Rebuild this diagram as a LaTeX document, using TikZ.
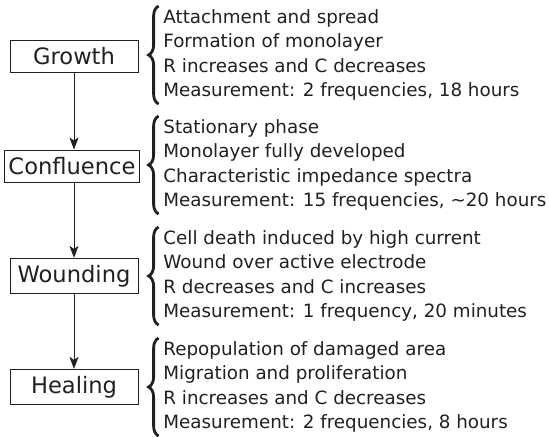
\documentclass[tikz,border=0pt]{standalone}
\usepackage{fontspec}
\setmainfont{DejaVu Sans}
\usepackage{xcolor}
\usetikzlibrary{arrows.meta, positioning, decorations.pathreplacing}
\definecolor{inkgray}{RGB}{35,31,32}

\tikzset{
  stage/.style={draw=inkgray, line width=0.5pt, text=inkgray,
    minimum width=64pt, minimum height=16pt, inner xsep=2pt,
    font=\fontsize{11.3}{13}\selectfont},
  notes/.style={anchor=west, align=left, inner sep=0pt, text=inkgray,
    font=\fontsize{9.15}{12.25}\selectfont},
  flow/.style={draw=inkgray, line width=0.5pt,
    -{Stealth[length=6pt, width=4.5pt, inset=1.5pt]}},
  bracket/.style={draw=inkgray, line width=1.4pt, decorate,
    decoration={brace, amplitude=5pt}}
}

\begin{document}
\begin{tikzpicture}[x=0.5pt, y=-0.5pt]
  \useasboundingbox (0,0) rectangle (549,436);

  % stages
  \node[stage] (growth) at (74,56) {Growth};
  \node[stage] (confluence) at (72,166) {Confluence};
  \node[stage] (wounding) at (74,276) {Wounding};
  \node[stage] (healing) at (74,387) {Healing};

  % arrows between stages
  \draw[flow] (growth.south) -- (growth.south |- confluence.north);
  \draw[flow] (growth.south |- confluence.south) -- (wounding.north);
  \draw[flow] (wounding.south) -- (healing.north);

  % descriptions
  \node[notes] (growthtxt) at (163,55) {Attachment and spread\\
    Formation of monolayer\\
    R increases and C decreases\\
    Measurement: 2 frequencies, 18 hours};
  \node[notes] (confluencetxt) at (163,165) {Stationary phase\\
    Monolayer fully developed\\
    Characteristic impedance spectra\\
    Measurement: 15 frequencies, \textasciitilde20 hours};
  \node[notes] (woundingtxt) at (163,276) {Cell death induced by high current\\
    Wound over active electrode\\
    R decreases and C increases\\
    Measurement: 1 frequency, 20 minutes};
  \node[notes] (healingtxt) at (163,387) {Repopulation of damaged area\\
    Migration and proliferation\\
    R increases and C decreases\\
    Measurement: 2 frequencies, 8 hours};

  % braces
  \foreach \t in {growthtxt, confluencetxt, woundingtxt, healingtxt}
    \draw[bracket] ([xshift=-2.2pt, yshift=-1.5pt]\t.south west)
      -- ([xshift=-2.2pt, yshift=1.5pt]\t.north west);
\end{tikzpicture}
\end{document}
